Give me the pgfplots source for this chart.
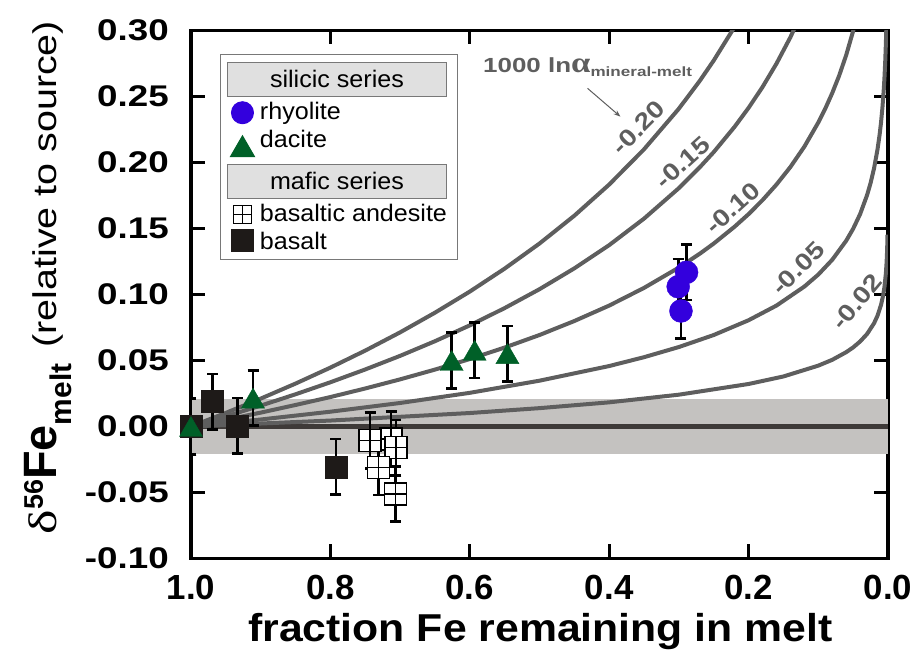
\documentclass[border=0pt]{standalone}
\usepackage{fontspec}
\setmainfont{Liberation Sans}
\newfontfamily\ytickfont[FakeStretch=1.23]{Liberation Sans}
\newfontfamily\xlabfont[FakeStretch=1.1]{Liberation Sans}
\newfontfamily\ylabfont[FakeStretch=1.2]{Liberation Sans}
\newfontfamily\curvefont[FakeStretch=1.18]{Liberation Sans}
\newfontfamily\notefont[FakeStretch=1.27]{Liberation Sans}
\newfontfamily\legfont[FakeStretch=1.05]{Liberation Sans}
\newfontfamily\greekfont[FakeStretch=1.2]{Liberation Serif}
\newfontfamily\deltafont[FakeStretch=1.3]{Liberation Serif}
\usepackage{pgfplots}
\pgfplotsset{compat=1.18}
\usetikzlibrary{arrows.meta}

\definecolor{rhycol}{RGB}{51,0,221}
\definecolor{daccol}{RGB}{0,96,40}
\definecolor{bascol}{RGB}{30,26,24}
\definecolor{curvecol}{RGB}{94,94,94}
\definecolor{bandcol}{RGB}{196,194,192}
\definecolor{zerocol}{RGB}{62,58,56}
\definecolor{hdrfill}{RGB}{224,224,224}
\definecolor{hdrline}{RGB}{120,120,120}
\definecolor{legline}{RGB}{120,120,120}

% filled triangle centred on its bounding box
\pgfdeclareplotmark{tri*}{%
  \pgfpathmoveto{\pgfpoint{0pt}{0.866\pgfplotmarksize}}%
  \pgfpathlineto{\pgfpoint{-\pgfplotmarksize}{-0.866\pgfplotmarksize}}%
  \pgfpathlineto{\pgfpoint{\pgfplotmarksize}{-0.866\pgfplotmarksize}}%
  \pgfpathclose
  \pgfusepathqfillstroke}
% open square divided into four cells
\pgfdeclareplotmark{gridsq}{%
  \pgfpathrectangle{\pgfpoint{-\pgfplotmarksize}{-\pgfplotmarksize}}{\pgfpoint{2\pgfplotmarksize}{2\pgfplotmarksize}}%
  \pgfusepathqfillstroke
  \pgfpathmoveto{\pgfpoint{0pt}{-\pgfplotmarksize}}\pgfpathlineto{\pgfpoint{0pt}{\pgfplotmarksize}}%
  \pgfpathmoveto{\pgfpoint{-\pgfplotmarksize}{0pt}}\pgfpathlineto{\pgfpoint{\pgfplotmarksize}{0pt}}%
  \pgfusepathqstroke}

% grey heading bar spanning the legend
\newcommand{\hdr}[1]{\hspace*{-33bp}{\setlength{\fboxsep}{0pt}\setlength{\fboxrule}{1bp}%
  \fcolorbox{hdrline}{hdrfill}{\makebox[218bp]{\rule[-9bp]{0pt}{33bp}#1}}}}

\pgfplotsset{
  errstyle/.style={error bars/y dir=both, error bars/y explicit,
    error bars/error bar style={line width=2.7bp, black},
    error bars/error mark options={rotate=90, mark size=5.5bp, line width=2.7bp, black}},
}

\begin{document}
\begin{tikzpicture}
\begin{axis}[
  name=ax,
  scale only axis, width=697bp, height=528bp,
  x dir=reverse,
  xmin=0, xmax=1, ymin=-0.10, ymax=0.30,
  xtick={0,0.2,0.4,0.6,0.8,1},
  xticklabels={0.0,0.2,0.4,0.6,0.8,1.0},
  ytick={-0.10,-0.05,0,0.05,0.10,0.15,0.20,0.25,0.30},
  yticklabels={-0.10,-0.05,0.00,0.05,0.10,0.15,0.20,0.25,0.30},
  tick align=inside, major tick length=14bp,
  axis line style={line width=3.2bp, black},
  every tick/.style={line width=3bp, black},
  xticklabel style={font=\fontsize{35}{37}\selectfont\bfseries,
    anchor=north, inner sep=0pt, yshift=-16.5bp},
  yticklabel style={font=\fontsize{30}{32}\selectfont\ytickfont\bfseries,
    anchor=east, inner sep=0pt, xshift=-22bp},
  xlabel={fraction Fe remaining in melt},
  xlabel style={font=\fontsize{39}{41}\selectfont\xlabfont\bfseries,
    at={(axis description cs:0.5014,-0.1576)}, anchor=base, inner sep=0pt},
  ylabel={{\fontsize{40}{42}\selectfont\deltafont δ}%
    \raisebox{14bp}{\fontsize{27}{28}\selectfont\bfseries 56}%
    {\fontsize{47}{48}\selectfont\bfseries Fe}%
    \raisebox{-15bp}{\fontsize{30}{32}\selectfont\bfseries melt}\hspace{16bp}%
    {\fontsize{33}{35}\selectfont\ylabfont (relative to source)}},
  ylabel style={at={(axis description cs:-0.1923,0.5322)}, anchor=base,
    rotate=0, inner sep=0pt},
  legend cell align=left,
  legend style={at={(axis description cs:0.0416,0.9555)}, anchor=north west,
    draw=legline, line width=1bp, fill=white,
    inner xsep=10bp, inner ysep=8bp,
    font=\fontsize{24}{26}\selectfont\legfont,
    row sep=0pt, nodes={inner sep=0pt},
    /tikz/every odd column/.append style={column sep=5.5bp}},
]

% analytical uncertainty of the source composition
\addplot[fill=bandcol, draw=none, forget plot] coordinates
  {(0,-0.021) (1,-0.021) (1,0.021) (0,0.021)} -- cycle;
\addplot[zerocol, line width=4.5bp, forget plot] coordinates {(1,0) (0,0)};

% Rayleigh fractionation curves, 1000 ln alpha = -0.20 ... -0.02
\addplot[curvecol, line width=4bp, forget plot] coordinates {
  (1.00,0) (0.95,0.0103) (0.90,0.0211) (0.85,0.0325) (0.80,0.0446) (0.75,0.0575)
  (0.70,0.0713) (0.65,0.0862) (0.60,0.1022) (0.55,0.1196) (0.50,0.1386)
  (0.45,0.1597) (0.40,0.1833) (0.35,0.2100) (0.30,0.2408) (0.27,0.2619)
  (0.25,0.2773) (0.22,0.3028) (0.20,0.3219)};
\addplot[curvecol, line width=4bp, forget plot] coordinates {
  (1.00,0) (0.95,0.0077) (0.90,0.0158) (0.85,0.0244) (0.80,0.0335) (0.75,0.0432)
  (0.70,0.0535) (0.65,0.0646) (0.60,0.0766) (0.55,0.0897) (0.50,0.1040)
  (0.45,0.1198) (0.40,0.1374) (0.35,0.1575) (0.30,0.1806) (0.27,0.1964)
  (0.25,0.2079) (0.22,0.2271) (0.20,0.2414) (0.18,0.2572) (0.16,0.2749)
  (0.14,0.2949) (0.12,0.3180)};
\addplot[curvecol, line width=4bp, forget plot] coordinates {
  (1.00,0) (0.95,0.0051) (0.90,0.0105) (0.85,0.0163) (0.80,0.0223) (0.75,0.0288)
  (0.70,0.0357) (0.65,0.0431) (0.60,0.0511) (0.55,0.0598) (0.50,0.0693)
  (0.45,0.0799) (0.40,0.0916) (0.35,0.1050) (0.30,0.1204) (0.27,0.1309)
  (0.25,0.1386) (0.22,0.1514) (0.20,0.1609) (0.18,0.1715) (0.16,0.1833)
  (0.14,0.1966) (0.12,0.2120) (0.10,0.2303) (0.09,0.2408) (0.08,0.2526)
  (0.07,0.2659) (0.06,0.2813) (0.05,0.2996) (0.045,0.3101)};
\addplot[curvecol, line width=4bp, forget plot] coordinates {
  (1.00,0) (0.90,0.0053) (0.80,0.0112) (0.70,0.0178) (0.60,0.0255) (0.50,0.0347)
  (0.40,0.0458) (0.35,0.0525) (0.30,0.0602) (0.25,0.0693) (0.20,0.0805)
  (0.16,0.0916) (0.12,0.1060) (0.10,0.1151) (0.08,0.1263) (0.06,0.1407)
  (0.05,0.1498) (0.04,0.1609) (0.03,0.1753) (0.025,0.1844) (0.02,0.1956)
  (0.015,0.2100) (0.012,0.2211) (0.010,0.2303) (0.008,0.2414) (0.006,0.2558)
  (0.005,0.2649) (0.004,0.2761) (0.003,0.2905) (0.0025,0.2996) (0.002,0.3107)};
\addplot[curvecol, line width=4bp, forget plot] coordinates {
  (1.00,0) (0.80,0.0045) (0.60,0.0102) (0.50,0.0139) (0.40,0.0183) (0.30,0.0241)
  (0.20,0.0322) (0.15,0.0379) (0.10,0.0461) (0.08,0.0505) (0.06,0.0563)
  (0.05,0.0599) (0.04,0.0644) (0.03,0.0701) (0.02,0.0782) (0.015,0.0840)
  (0.010,0.0921) (0.007,0.0992) (0.005,0.1060) (0.003,0.1162) (0.002,0.1243)
  (0.0015,0.1300) (0.001,0.1382) (0.0007,0.1453)};

% curve labels
\begin{scope}[every node/.style={font=\fontsize{24}{26}\selectfont\curvefont\bfseries, text=curvecol}]
\node[rotate=45] at (axis cs:0.358,0.2265) {-0.20};
\node[rotate=42] at (axis cs:0.2945,0.2000) {-0.15};
\node[rotate=42] at (axis cs:0.2228,0.1655) {-0.10};
\node[rotate=45] at (axis cs:0.1290,0.1200) {-0.05};
\node[rotate=50] at (axis cs:0.0445,0.0943) {-0.02};
\end{scope}
\node[anchor=base west, inner sep=0pt, text=curvecol] at (axis cs:0.581,0.2678)
  {\fontsize{20.5}{22}\selectfont\notefont\bfseries 1000 ln{\fontsize{29}{30}\selectfont\greekfont α}\raisebox{-4bp}{\fontsize{13.5}{14}\selectfont\notefont\bfseries mineral-melt}};
\draw[curvecol, line width=1bp, -{Stealth[length=7bp,width=5bp]}] (axis cs:0.4311,0.2562) -- (axis cs:0.3838,0.2347);

% basalt
\addplot[only marks, mark=square*, mark size=11bp, mark options={fill=bascol, draw=bascol}, errstyle, forget plot]
  coordinates {(1.000,0.000) +- (0,0.021) (0.969,0.0188) +- (0,0.021)
               (0.933,0.0005) +- (0,0.021) (0.792,-0.0305) +- (0,0.021)};
% basaltic andesite
\addplot[only marks, mark=gridsq, mark size=11bp, mark options={fill=white, draw=black, line width=1.3bp}, errstyle, forget plot]
  coordinates {(0.713,-0.0095) +- (0,0.021) (0.743,-0.0106) +- (0,0.021)
               (0.706,-0.0160) +- (0,0.021) (0.731,-0.0310) +- (0,0.021)
               (0.707,-0.0511) +- (0,0.021)};
% dacite
\addplot[only marks, mark=tri*, mark size=11.5bp, mark options={fill=daccol, draw=daccol}, errstyle, forget plot]
  coordinates {(1.000,0.000) +- (0,0.021) (0.911,0.0215) +- (0,0.021)
               (0.626,0.0500) +- (0,0.021) (0.593,0.0577) +- (0,0.021)
               (0.546,0.0552) +- (0,0.021)};
% rhyolite
\addplot[only marks, mark=*, mark size=11.5bp, mark options={fill=rhycol, draw=rhycol}, errstyle, forget plot]
  coordinates {(0.289,0.1168) +- (0,0.021) (0.301,0.1059) +- (0,0.021)
               (0.297,0.0875) +- (0,0.021)};

% legend
\addlegendimage{empty legend}
\addlegendentry[text height=25bp, text depth=10bp]{\hdr{silicic series}}
\addlegendimage{only marks, mark=*, mark size=11bp, mark options={fill=rhycol, draw=rhycol}}
\addlegendentry[text height=22.5bp, text depth=8bp]{rhyolite}
\addlegendimage{only marks, mark=tri*, mark size=12bp, mark options={fill=daccol, draw=daccol}}
\addlegendentry[text height=20bp, text depth=16.5bp]{dacite}
\addlegendimage{empty legend}
\addlegendentry[text height=25bp, text depth=10bp]{\hdr{mafic series}}
\addlegendimage{only marks, mark=gridsq, mark size=9bp, mark options={fill=white, draw=black, line width=1.3bp}}
\addlegendentry[text height=22.5bp, text depth=8bp]{basaltic andesite}
\addlegendimage{only marks, mark=square*, mark size=11bp, mark options={fill=bascol, draw=bascol}}
\addlegendentry[text height=19bp, text depth=1bp]{basalt}
\end{axis}
\pgfresetboundingbox
\path ([shift={(-191bp,-92.5bp)}]ax.south west) rectangle ([shift={(32bp,30.5bp)}]ax.north east);
\end{tikzpicture}
\end{document}
